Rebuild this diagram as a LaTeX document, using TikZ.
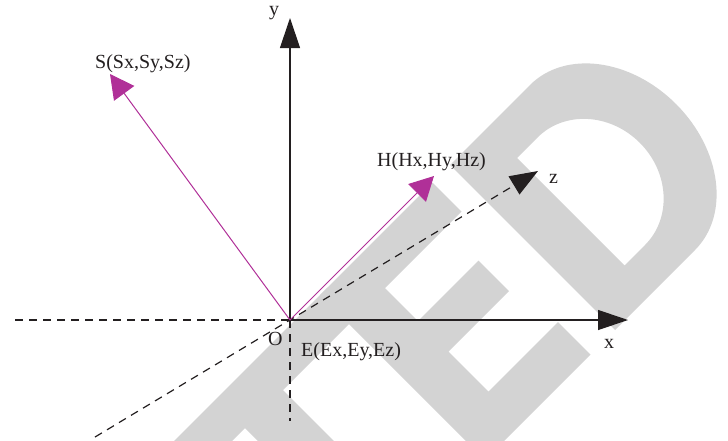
\documentclass[tikz,border=0pt]{standalone}
\usepackage{fontspec}
\setmainfont{Liberation Serif}
\usetikzlibrary{arrows.meta}
\definecolor{ink}{HTML}{231F20}
\definecolor{mag}{HTML}{B03098}
\definecolor{wmgray}{HTML}{D3D3D3}
\tikzset{
  wm/.style={fill=wmgray},
  axisline/.style={draw=ink, line width=1.2pt},
  axisarrow/.style={axisline, -{Triangle[length=30pt,width=20pt]}},
  dashline/.style={draw=ink, line width=1.2pt, dash pattern=on 8pt off 6pt},
  vec/.style={draw=mag, line width=1pt, -{Triangle[length=24pt,width=25pt]}},
  lbl/.style={text=ink, font=\fontsize{20}{24}\selectfont, inner sep=0pt, anchor=base west},
}
\begin{document}
\begin{tikzpicture}[x=1pt,y=-1pt]
\useasboundingbox (0,0) rectangle (728,440);
% watermark letters (rotated 45 degrees)
\begin{scope}[rotate=45,x=0.70711pt,y=0.70711pt]
  % T
  \fill[wm] (-330,-615) -- (40,-615) -- (40,-673) -- (-107,-673) -- (-107,-945)
    -- (-183,-945) -- (-183,-673) -- (-330,-673) -- cycle;
  % E
  \fill[wm] (25,-615) -- (250,-615) -- (250,-673) -- (97,-673) -- (97,-739)
    -- (218,-739) -- (218,-800) -- (97,-800) -- (97,-880) -- (236,-880)
    -- (236,-945) -- (25,-945) -- cycle;
  % D
  \fill[wm, even odd rule]
    (285,-615) -- (445,-615) arc[start angle=90, end angle=-90, x radius=127, y radius=165]
    -- (285,-945) -- cycle
    (359,-675) -- (400,-675) arc[start angle=90, end angle=-90, x radius=97, y radius=107.5]
    -- (359,-890) -- cycle;
\end{scope}
% points
\coordinate (O) at (290,320);
\coordinate (Yt) at (290,18);
\coordinate (Xt) at (628,320);
\coordinate (Xn) at (15,320);
\coordinate (Yn) at (290,421);
\coordinate (Zn) at (95,437);
\coordinate (Zt) at (538,171);
\coordinate (St) at (110,74);
\coordinate (Ht) at (434,176);
% axes
\draw[dashline] (Xn) -- (O);
\draw[dashline] (O) -- (Yn);
\draw[dashline, -{Triangle[length=28pt,width=21pt]}] (Zn) -- (Zt);
\draw[axisarrow] (O) -- (Yt);
\draw[axisarrow] (O) -- (Xt);
% vectors
\draw[vec] (O) -- (St);
\draw[vec] (O) -- (Ht);
% labels
\node[lbl] (ylab) at (269,15) {y};
\node[lbl] (slab) at (95,68) {S(Sx,Sy,Sz)};
\node[lbl] (hlab) at (377,166) {H(Hx,Hy,Hz)};
\node[lbl] (zlab) at (549,183) {z};
\node[lbl] (olab) at (268,345) {O};
\node[lbl] (elab) at (301,356) {E(Ex,Ey,Ez)};
\node[lbl] (xlab) at (604,348) {x};
\end{tikzpicture}
\end{document}
